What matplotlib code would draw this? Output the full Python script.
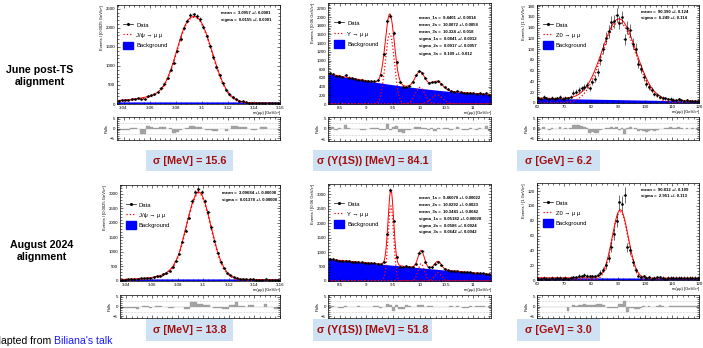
import numpy as np
import matplotlib
matplotlib.use('Agg')
import matplotlib.pyplot as plt
from matplotlib.lines import Line2D
from matplotlib.patches import Patch, Rectangle
from matplotlib.ticker import FormatStrFormatter, AutoMinorLocator, MultipleLocator

plt.rcParams['font.family'] = ['Liberation Sans', 'DejaVu Sans']

W, H = 703, 348
BLUE = '#0000ff'
RED = '#ff0000'

# ---------------- J/psi -> mu mu (bins of 2.5 MeV, 3.035 - 3.16 GeV)
jpsi_range = (3.035, 3.16)
jpsi_bin = 0.0025

jpsi_june_data = [85, 92, 99, 108, 128, 137, 147, 125, 141, 210,
                  233, 257, 319, 410, 528, 680, 903, 1085, 1382, 1707,
                  1990, 2179, 2332, 2353, 2318, 2228, 2022, 1782, 1520, 1230,
                  962, 752, 550, 356, 260, 192, 130, 90, 66, 51,
                  38, 29, 26, 27, 29, 27, 22, 21, 21, 21]
jpsi_june_fit = [95, 100, 108, 116, 125, 135, 147, 160, 176, 195,
                 220, 255, 310, 390, 510, 680, 900, 1160, 1450, 1740,
                 1990, 2170, 2270, 2300, 2280, 2200, 2040, 1820, 1560, 1280,
                 1010, 760, 550, 385, 260, 175, 118, 82, 60, 46,
                 38, 33, 29, 27, 25, 24, 23, 22, 21, 21]
jpsi_june_pulls = [-1.0, -0.8, -0.9, -0.7, 0.3, 0.2, 0.0, -2.8, -2.6, 1.1,
                   0.9, 0.1, 0.5, 1.0, 0.8, 0.0, 0.1, -2.2, -1.8, -0.8,
                   0.0, 0.2, 1.3, 1.1, 0.8, 0.6, -0.4, -0.9, -1.0, -1.4,
                   -1.5, -0.3, 0.0, -1.5, 0.0, 1.3, 1.1, 0.9, 0.8, 0.7,
                   0.0, -0.7, -0.6, 0.0, 0.8, 0.7, -0.2, -0.3, 0.0, 0.0]
jpsi_june_bg = 20

jpsi_aug_data = [46, 49, 55, 61, 66, 72, 88, 99, 107, 109,
                 129, 164, 188, 225, 285, 361, 482, 700, 945, 1345,
                 1736, 2184, 2774, 3075, 3173, 3077, 2772, 2363, 1847, 1376,
                 968, 664, 436, 274, 206, 138, 113, 74, 65, 58,
                 62, 58, 47, 46, 46, 54, 44, 43, 34, 35]
jpsi_aug_fit = [50, 55, 62, 68, 75, 82, 88, 95, 102, 115,
                135, 160, 185, 225, 285, 375, 500, 700, 960, 1360,
                1800, 2250, 2650, 2950, 3090, 3000, 2720, 2320, 1860, 1410,
                1000, 690, 460, 300, 195, 130, 92, 70, 62, 58,
                55, 52, 50, 48, 46, 45, 44, 43, 42, 42]
jpsi_aug_pulls = [-0.6, -0.8, -0.9, -0.8, -1.0, -1.1, 0.0, 0.4, 0.5, -0.6,
                  -0.5, 0.3, 0.2, 0.0, 0.0, -0.7, -0.8, 0.0, -0.5, -0.4,
                  -1.5, -1.4, 2.4, 2.3, 1.5, 1.4, 1.0, 0.9, -0.3, -0.9,
                  -1.0, -1.0, -1.1, -1.5, 0.8, 0.7, 2.2, 0.5, 0.4, 0.0,
                  1.0, 0.9, -0.4, -0.3, 0.0, 1.3, 0.0, 0.0, -1.2, -1.1]
jpsi_aug_bg = 35

# ---------------- Upsilon(1S,2S,3S) -> mu mu (bins of 60 MeV, 8.28 - 11.34 GeV)
ups_range = (8.28, 11.34)
ups_bin = 0.06
ups_bg_mass = [8.28, 9.8, 11.34]

ups_june_data = [710, 697, 651, 652, 630, 661, 609, 593, 575, 562,
                 543, 528, 530, 525, 520, 545, 674, 1140, 1917, 2031,
                 1630, 960, 511, 393, 398, 424, 507, 666, 763, 721,
                 593, 486, 506, 499, 530, 462, 395, 338, 293, 287,
                 296, 273, 259, 255, 263, 249, 236, 246, 233, 252, 211]
ups_june_pulls = [0.8, 0.9, -0.3, 0.3, 0.0, 1.8, 0.3, 0.2, 0.0, 0.0,
                  -0.3, -0.4, 0.2, 0.5, 0.6, 0.7, -0.6, -0.5, 2.4, -0.6,
                  1.1, 1.3, -1.5, -1.8, -0.5, -0.3, 0.0, 1.0, 0.9, 0.5,
                  0.4, -0.5, 0.5, -1.0, 0.5, 0.0, 0.3, 0.3, -0.5, 0.0,
                  1.0, 0.0, -0.5, -0.4, 0.5, 0.0, -0.5, 0.5, 0.0, 1.6, -0.8]
ups_june_mean = [9.4401, 10.0072, 10.324]
ups_june_sigma = [0.0841, 0.0917, 0.109]
ups_june_amp = [1620, 380, 205]
ups_june_bg = [697, 393, 220]

ups_aug_data = [753, 743, 720, 693, 685, 699, 684, 660, 653, 661,
                643, 625, 617, 612, 614, 602, 570, 667, 1630, 3142,
                2071, 834, 498, 478, 516, 499, 484, 603, 963, 1034,
                661, 475, 486, 592, 667, 553, 413, 368, 360, 343,
                340, 322, 303, 294, 301, 280, 279, 268, 259, 240, 238]
ups_aug_pulls = [0.3, 0.3, -0.2, -0.8, -0.7, 0.2, 0.0, -0.5, -0.4, 0.3,
                 0.0, -0.3, -0.2, 0.0, 0.5, 0.4, -0.6, -0.5, 1.2, 1.0,
                 -2.5, 0.8, -1.5, -1.4, 0.7, 0.4, -0.5, -0.4, 0.8, 0.7,
                 -0.4, 0.3, 0.3, -0.5, -0.4, 0.0, -0.3, -0.2, 0.1, -0.2,
                 0.1, -0.3, -0.8, -0.7, 0.3, -0.4, 0.2, 0.1, 0.2, -0.3, 0.2]
ups_aug_mean = [9.46070, 10.0292, 10.3441]
ups_aug_sigma = [0.05182, 0.0586, 0.0642]
ups_aug_amp = [2590, 600, 280]
ups_aug_bg = [750, 492, 230]

# ---------------- Z0 -> mu mu (bins of 1 GeV, 60 - 120 GeV)
z_range = (60, 120)
z_bin = 1.0
z_bg_mass = [60, 120]

z_june_data = [10, 8, 11, 9, 7, 10, 8, 9, 11, 8,
               10, 9, 12, 19, 21, 24, 27, 30, 33, 27,
               39, 45, 58, 80, 101, 120, 133, 150, 152, 163,
               149, 159, 118, 140, 135, 110, 101, 73, 64, 48,
               36, 30, 25, 17, 14, 12, 10, 9, 7, 8,
               6, 5, 7, 5, 4, 5, 3, 4, 3, 4]
z_june_pulls = [0.3, -0.35, 0.6, 0.0, -0.75, 0.3, -0.35, 0.0, 0.7, -0.2,
                0.3, -0.2, 0.5, 1.7, 1.6, 1.6, 1.3, 0.9, 0.2, -2.5,
                -1.8, -2.4, -2.1, -1.0, -0.2, 0.3, 0.3, 0.7, 0.2, 0.6,
                -0.6, 0.4, -2.8, 0.1, 0.7, -0.3, 0.2, -1.3, -0.75, -1.3,
                -1.7, -1.1, -0.6, -1.1, -0.7, -0.3, 0.0, 0.3, 0.15, 0.8,
                0.4, 0.2, 1.0, 0.4, 0.0, 0.5, -0.5, 0.15, -0.35, 0.25]
z_june_mean = 90.390
z_june_sigma = 6.249
z_june_amp = 150
z_june_bg = [9, 3.5]

z_aug_data = [2, 2, 3, 2, 2, 3, 2, 3, 3, 2,
              3, 1, 3, 4, 4, 6, 5, 7, 6, 5,
              5, 5, 7, 10, 14, 20, 30, 45, 62, 80,
              105, 103, 115, 44, 40, 24, 13, 6, 4, 5,
              3, 4, 2, 3, 4, 4, 3, 2, 3, 3,
              3, 3, 3, 3, 3, 3, 3, 3, 3, 3]
z_aug_pulls = [-0.5, -0.4, 0.0, -0.3, -0.3, 0.0, -0.2, 0.0, 0.0, -0.2,
               0.0, -2.5, 0.0, 0.6, 0.4, 1.0, 0.9, 1.1, 1.0, 0.9,
               1.0, 0.8, 1.1, 1.2, 0.6, -0.1, -0.7, -0.9, -1.0, -0.7,
               1.1, 1.1, 3.0, -3.0, -0.8, -1.0, -1.1, -1.5, -0.85, 0.5,
               0.0, 0.5, -0.5, 0.0, 0.5, 0.6, 0.4, -0.3, 0.0, 0.3,
               0.3, 0.2, 0.3, 0.2, 0.3, 0.3, 0.2, 0.3, 0.3, 0.2]
z_aug_mean = 90.832
z_aug_sigma = 2.951
z_aug_amp = 92
z_aug_bg = [3, 2.5]

# ---------------- annotations
jpsi_june_stats = ['mean =  3.0957 +/- 0.0001', 'sigma =  0.0155 +/- 0.0001']
jpsi_aug_stats = ['mean =  3.09684 +/- 0.00008', 'sigma =  0.01378 +/- 0.00008']
ups_june_stats = ['mean_1s =  9.4401 +/- 0.0014', 'mean_2s =  10.0072 +/- 0.0058',
                  'mean_3s =  10.324 +/- 0.018', 'sigma_1s =  0.0841 +/- 0.0012',
                  'sigma_2s =  0.0917 +/- 0.0057', 'sigma_3s =  0.109 +/- 0.012']
ups_aug_stats = ['mean_1s =  9.46070 +/- 0.00022', 'mean_2s =  10.0292 +/- 0.0023',
                 'mean_3s =  10.3441 +/- 0.0042', 'sigma_1s =  0.05182 +/- 0.00028',
                 'sigma_2s =  0.0586 +/- 0.0024', 'sigma_3s =  0.0642 +/- 0.0042']
z_june_stats = ['mean =  90.390 +/- 0.124', 'sigma =  6.249 +/- 0.114']
z_aug_stats = ['mean =  90.832 +/- 0.109', 'sigma =  2.951 +/- 0.113']

row_labels = ['June post-TS\nalignment', 'August 2024\nalignment']
box_labels_june = ['σ [MeV] = 15.6', 'σ (Υ(1S)) [MeV] = 84.1', 'σ [GeV] = 6.2']
box_labels_aug = ['σ [MeV] = 13.8', 'σ (Υ(1S)) [MeV] = 51.8', 'σ [GeV] = 3.0']


def px_axes(fig, x0, y0, x1, y1):
    return fig.add_axes([x0 / W, 1 - y1 / H, (x1 - x0) / W, (y1 - y0) / H])


def gauss(x, amp, mean, sigma):
    return amp * np.exp(-0.5 * ((x - mean) / sigma) ** 2)


def centers(rng, width, n):
    return rng[0] + width / 2 + width * np.arange(n)


def style(ax):
    for s in ax.spines.values():
        s.set_linewidth(0.5)
    ax.tick_params(which='both', direction='in', width=0.4, labelsize=3.2, pad=1.5,
                   top=True, right=True)
    ax.tick_params(which='major', length=2.5)
    ax.tick_params(which='minor', length=1.3)
    ax.xaxis.set_minor_locator(AutoMinorLocator(5))
    ax.yaxis.set_minor_locator(AutoMinorLocator(5))


def main_panel(ax, x, data, width, xlim, ylim, xstep, ystep, ylabel, sig_label):
    ax.errorbar(x, data, yerr=np.sqrt(data), xerr=width / 2, fmt='o', ms=0.9,
                color='black', elinewidth=0.4, capsize=0, zorder=6)
    ax.set_xlim(xlim)
    ax.set_ylim(ylim)
    ax.xaxis.set_major_locator(MultipleLocator(xstep))
    ax.yaxis.set_major_locator(MultipleLocator(ystep))
    ax.xaxis.set_major_formatter(FormatStrFormatter('%g'))
    style(ax)
    ax.set_ylabel(ylabel, fontsize=3, loc='top', labelpad=1)
    ax.set_xlabel('m(μμ) [GeV/c²]', fontsize=3, loc='right', labelpad=1)
    handles = [Line2D([], [], color='black', marker='o', ms=1.2, lw=0.5),
               Line2D([], [], color=RED, ls=':', lw=0.9),
               Patch(color=BLUE)]
    ax.legend(handles, ['Data', sig_label, 'Background'], loc='upper left',
              bbox_to_anchor=(0.02, 0.86), fontsize=4.2, frameon=False,
              handlelength=1.8, handleheight=1.7, labelspacing=0.4,
              handletextpad=0.5, borderaxespad=0)


def stats_text(ax, lines, x, y, dy):
    for k, line in enumerate(lines):
        ax.text(x, y - k * dy, line, transform=ax.transAxes, fontsize=3.1,
                fontweight='bold', va='center', ha='left')


def pull_panel(ax, x, pulls, width, xlim, xstep):
    ax.bar(x, pulls, width=width, color='#a6a6a6', edgecolor='#8c8c8c', lw=0.2)
    ax.axhline(3, color='#999999', ls=':', lw=0.4)
    ax.axhline(-3, color='#999999', ls=':', lw=0.4)
    ax.set_xlim(xlim)
    ax.set_ylim(-5.8, 5.8)
    ax.xaxis.set_major_locator(MultipleLocator(xstep))
    ax.set_yticks([-5, 0, 5])
    ax.set_xticklabels([])
    style(ax)
    ax.set_ylabel('Pulls', fontsize=3, labelpad=1)


def jpsi(ax, axp, data, fit, pulls, bg, ylim, stats):
    n = len(data)
    x = centers(jpsi_range, jpsi_bin, n)
    ax.fill_between(jpsi_range, 0, bg, color=BLUE, lw=0)
    ax.plot(jpsi_range, [bg, bg], color=BLUE, lw=1.4, alpha=0.6)
    ax.plot(x, np.array(fit) - bg, color=RED, ls=':', lw=1.1)
    ax.plot(x, fit, color=RED, lw=0.7)
    main_panel(ax, x, data, jpsi_bin, jpsi_range, ylim, 0.02, 500,
               'Events / [0.0025 GeV/c²]', 'J/ψ → μ μ')
    stats_text(ax, stats, 0.64, 0.92, 0.075)
    pull_panel(axp, x, pulls, jpsi_bin, jpsi_range, 0.02)


def upsilon(ax, axp, data, pulls, means, sigmas, amps, bg_levels, ylim, ystep, stats):
    n = len(data)
    x = centers(ups_range, ups_bin, n)
    xf = np.linspace(ups_range[0], ups_range[1], 800)
    bg = np.polyval(np.polyfit(ups_bg_mass, bg_levels, 2), xf)
    peaks = [gauss(xf, a, m, s) for a, m, s in zip(amps, means, sigmas)]
    ax.fill_between(xf, 0, bg, color=BLUE, lw=0)
    for p in peaks:
        ax.plot(xf, p, color=RED, ls=':', lw=0.9)
    ax.plot(xf, bg + sum(peaks), color=RED, lw=0.7)
    main_panel(ax, x, data, ups_bin, ups_range, ylim, 0.5, ystep,
               'Events / [0.06 GeV/c²]', 'Υ → μ μ')
    stats_text(ax, stats, 0.56, 0.86, 0.072)
    pull_panel(axp, x, pulls, ups_bin, ups_range, 0.5)


def zboson(ax, axp, data, pulls, mean, sigma, amp, bg_levels, ylim, stats):
    n = len(data)
    x = centers(z_range, z_bin, n)
    xf = np.linspace(z_range[0], z_range[1], 600)
    bg = np.polyval(np.polyfit(z_bg_mass, bg_levels, 1), xf)
    sig = gauss(xf, amp, mean, sigma)
    ax.fill_between(xf, 0, bg, color=BLUE, lw=0)
    ax.plot(xf, sig, color=RED, ls=':', lw=0.9)
    ax.plot(xf, bg + sig, color=RED, lw=0.7)
    main_panel(ax, x, data, z_bin, z_range, ylim, 10, 20,
               'Events / [1 GeV/c²]', 'Z0 → μ μ')
    stats_text(ax, stats, 0.64, 0.93, 0.065)
    pull_panel(axp, x, pulls, z_bin, z_range, 10)


fig = plt.figure(figsize=(W / 100, H / 100), dpi=100)

# top row: June post-TS
jpsi(px_axes(fig, 117, 5, 280, 104), px_axes(fig, 117, 117, 280, 140),
     jpsi_june_data, jpsi_june_fit, jpsi_june_pulls, jpsi_june_bg, (0, 2600), jpsi_june_stats)
upsilon(px_axes(fig, 328, 3, 491, 104), px_axes(fig, 328, 117, 491, 141),
        ups_june_data, ups_june_pulls, ups_june_mean, ups_june_sigma, ups_june_amp,
        ups_june_bg, (0, 2325), 200, ups_june_stats)
zboson(px_axes(fig, 537, 5, 699, 103), px_axes(fig, 537, 117, 699, 140),
       z_june_data, z_june_pulls, z_june_mean, z_june_sigma, z_june_amp, z_june_bg,
       (0, 182), z_june_stats)

# bottom row: August 2024
jpsi(px_axes(fig, 120, 185, 280, 281), px_axes(fig, 120, 295, 280, 318),
     jpsi_aug_data, jpsi_aug_fit, jpsi_aug_pulls, jpsi_aug_bg, (0, 3310), jpsi_aug_stats)
upsilon(px_axes(fig, 328, 184, 491, 281), px_axes(fig, 328, 295, 491, 318),
        ups_aug_data, ups_aug_pulls, ups_aug_mean, ups_aug_sigma, ups_aug_amp,
        ups_aug_bg, (0, 3345), 500, ups_aug_stats)
zboson(px_axes(fig, 537, 183, 699, 280), px_axes(fig, 537, 295, 699, 318),
       z_aug_data, z_aug_pulls, z_aug_mean, z_aug_sigma, z_aug_amp, z_aug_bg,
       (0, 131), z_aug_stats)

# row labels
fig.text(40 / W, 1 - 76 / H, row_labels[0], ha='center', va='center', fontsize=7.7,
         fontweight='bold', linespacing=1.15)
fig.text(42 / W, 1 - 251 / H, row_labels[1], ha='center', va='center', fontsize=7.7,
         fontweight='bold', linespacing=1.15)

# resolution boxes
box_x = [(146, 233), (313, 432), (517, 600)]
for labels, (y0, y1) in ((box_labels_june, (150, 171)), (box_labels_aug, (319, 341))):
    for (x0, x1), label in zip(box_x, labels):
        fig.add_artist(Rectangle((x0 / W, 1 - y1 / H), (x1 - x0) / W, (y1 - y0) / H,
                                 transform=fig.transFigure, color='#cfe2f3', lw=0))
        fig.text((x0 + x1) / 2 / W, 1 - (y0 + y1) / 2 / H, label, ha='center',
                 va='center', fontsize=7.8, fontweight='bold', color='#a30f0f')

# source note, left part runs off the slide edge as in the original
fig.text(54 / W, 1 - 341 / H, 'Adapted from ', ha='right', va='center', fontsize=7.6)
fig.text(54 / W, 1 - 341 / H, "Biliana's talk", ha='left', va='center', fontsize=7.6,
         color='#1a1aff')

fig.savefig('out.png', dpi=100)
